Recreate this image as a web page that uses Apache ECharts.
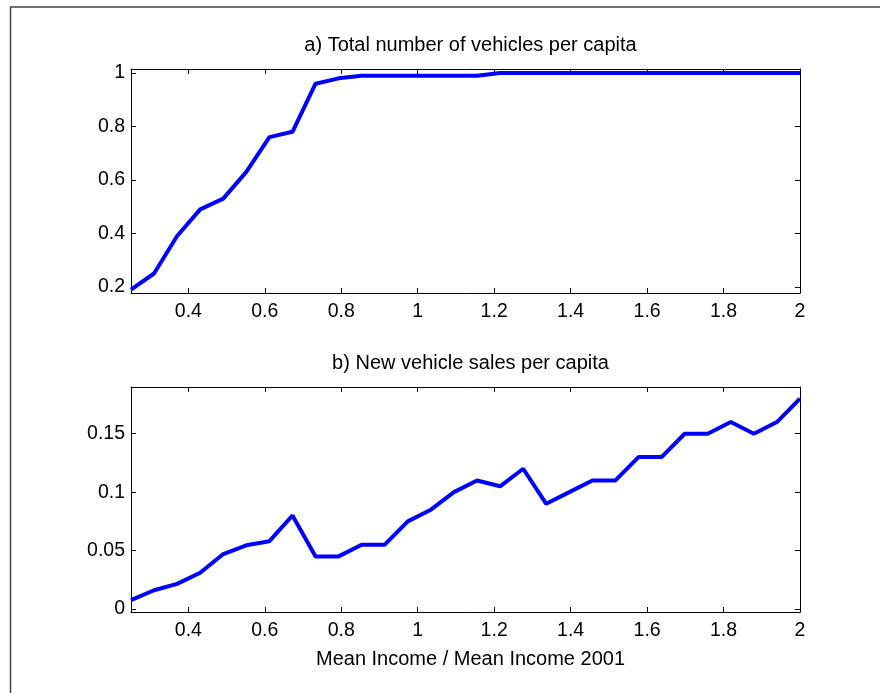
<!DOCTYPE html>
<html>
<head>
<meta charset="utf-8">
<script src="https://cdn.jsdelivr.net/npm/echarts@6/dist/echarts.min.js"></script>
<style>html,body{margin:0;padding:0;background:#fff;}#c{width:880px;height:693px;}</style>
</head>
<body>
<div id="c"></div>
<script>
var xValues = [0.25,0.3103,0.3707,0.431,0.4914,0.5517,0.6121,0.6724,0.7328,0.7931,0.8534,0.9138,0.9741,1.0345,1.0948,1.1552,1.2155,1.2759,1.3362,1.3966,1.4569,1.5172,1.5776,1.6379,1.6983,1.7586,1.819,1.8793,1.9397,2.0];
var totalVehicles = [0.19,0.25,0.39,0.49,0.53,0.63,0.76,0.78,0.96,0.98,0.99,0.99,0.99,0.99,0.99,0.99,1.0,1.0,1.0,1.0,1.0,1.0,1.0,1.0,1.0,1.0,1.0,1.0,1.0,1.0];
var newSales = [0.0075,0.016,0.0215,0.031,0.047,0.0545,0.058,0.080,0.045,0.045,0.055,0.055,0.075,0.085,0.100,0.110,0.105,0.120,0.090,0.100,0.110,0.110,0.130,0.130,0.150,0.150,0.160,0.150,0.160,0.180];
var xTicks = [0.4,0.6,0.8,1,1.2,1.4,1.6,1.8,2];
var yTicksTop = [0.2,0.4,0.6,0.8,1];
var yTicksBottom = [0,0.05,0.1,0.15];
var titleA = 'a) Total number of vehicles per capita';
var titleB = 'b) New vehicle sales per capita';
var xLabel = 'Mean Income / Mean Income 2001';

var FONT = 'Liberation Sans, Arial, sans-serif';
var FS = 19.5;
var chart = echarts.init(document.getElementById('c'), null, {renderer:'canvas'});
var gl = 131, gw = 669;
var grids = [
  {left: gl, top: 69, width: gw, height: 224},
  {left: gl, top: 387, width: gw, height: 225}
];
function xAx(gi, pos, labels){
  return {
    type:'value', gridIndex: gi, position: pos, min:0.25, max:2,
    axisLine:{show:true, onZero:false, lineStyle:{color:'#000', width:1}},
    axisTick:{show:true, inside:true, length:5, customValues: xTicks, lineStyle:{color:'#000'}},
    axisLabel:{show:labels, customValues: xTicks, color:'#000', fontFamily:FONT, fontSize:FS, margin:9,
      formatter:function(v){return String(+v.toFixed(2));}},
    splitLine:{show:false}
  };
}
function yAx(gi, pos, labels, mn, mx, ticks){
  return {
    type:'value', gridIndex: gi, position: pos, min:mn, max:mx,
    axisLine:{show:true, onZero:false, lineStyle:{color:'#000', width:1}},
    axisTick:{show:true, inside:true, length:5, customValues: ticks, lineStyle:{color:'#000'}},
    axisLabel:{show:labels, customValues: ticks, color:'#000', fontFamily:FONT, fontSize:FS, margin:6,
      formatter:function(v){return String(+v.toFixed(3));}},
    splitLine:{show:false}
  };
}
var cx = gl + gw/2;
var ts = {fontFamily:FONT, fontSize:20, fontWeight:'normal', color:'#000'};
chart.setOption({
  animation:false,
  backgroundColor:'#fff',
  title:[
    {text:titleA, left:cx, top:30, textAlign:'center', textStyle:ts},
    {text:titleB, left:cx, top:348, textAlign:'center', textStyle:ts},
    {text:xLabel, left:cx, top:644, textAlign:'center', textStyle:ts}
  ],
  grid: grids,
  xAxis:[xAx(0,'bottom',true), xAx(0,'top',false), xAx(1,'bottom',true), xAx(1,'top',false)],
  yAxis:[yAx(0,'left',true,0.177,1.015,yTicksTop), yAx(0,'right',false,0.177,1.015,yTicksTop),
         yAx(1,'left',true,-0.0026,0.19,yTicksBottom), yAx(1,'right',false,-0.0026,0.19,yTicksBottom)],
  series:[
    {type:'line', xAxisIndex:0, yAxisIndex:0, data: xValues.map(function(x,i){return [x,totalVehicles[i]];}),
     symbol:'none', lineStyle:{color:'#0000ff', width:4}, clip:true},
    {type:'line', xAxisIndex:2, yAxisIndex:2, data: xValues.map(function(x,i){return [x,newSales[i]];}),
     symbol:'none', lineStyle:{color:'#0000ff', width:4}, clip:true}
  ],
  graphic:[
    {type:'line', shape:{x1:10.5, y1:7, x2:10.5, y2:693}, style:{stroke:'#444', lineWidth:1.5}, z:100},
    {type:'line', shape:{x1:10, y1:7, x2:880, y2:7}, style:{stroke:'#444', lineWidth:1.5}, z:100}
  ]
});
</script>
</body>
</html>
